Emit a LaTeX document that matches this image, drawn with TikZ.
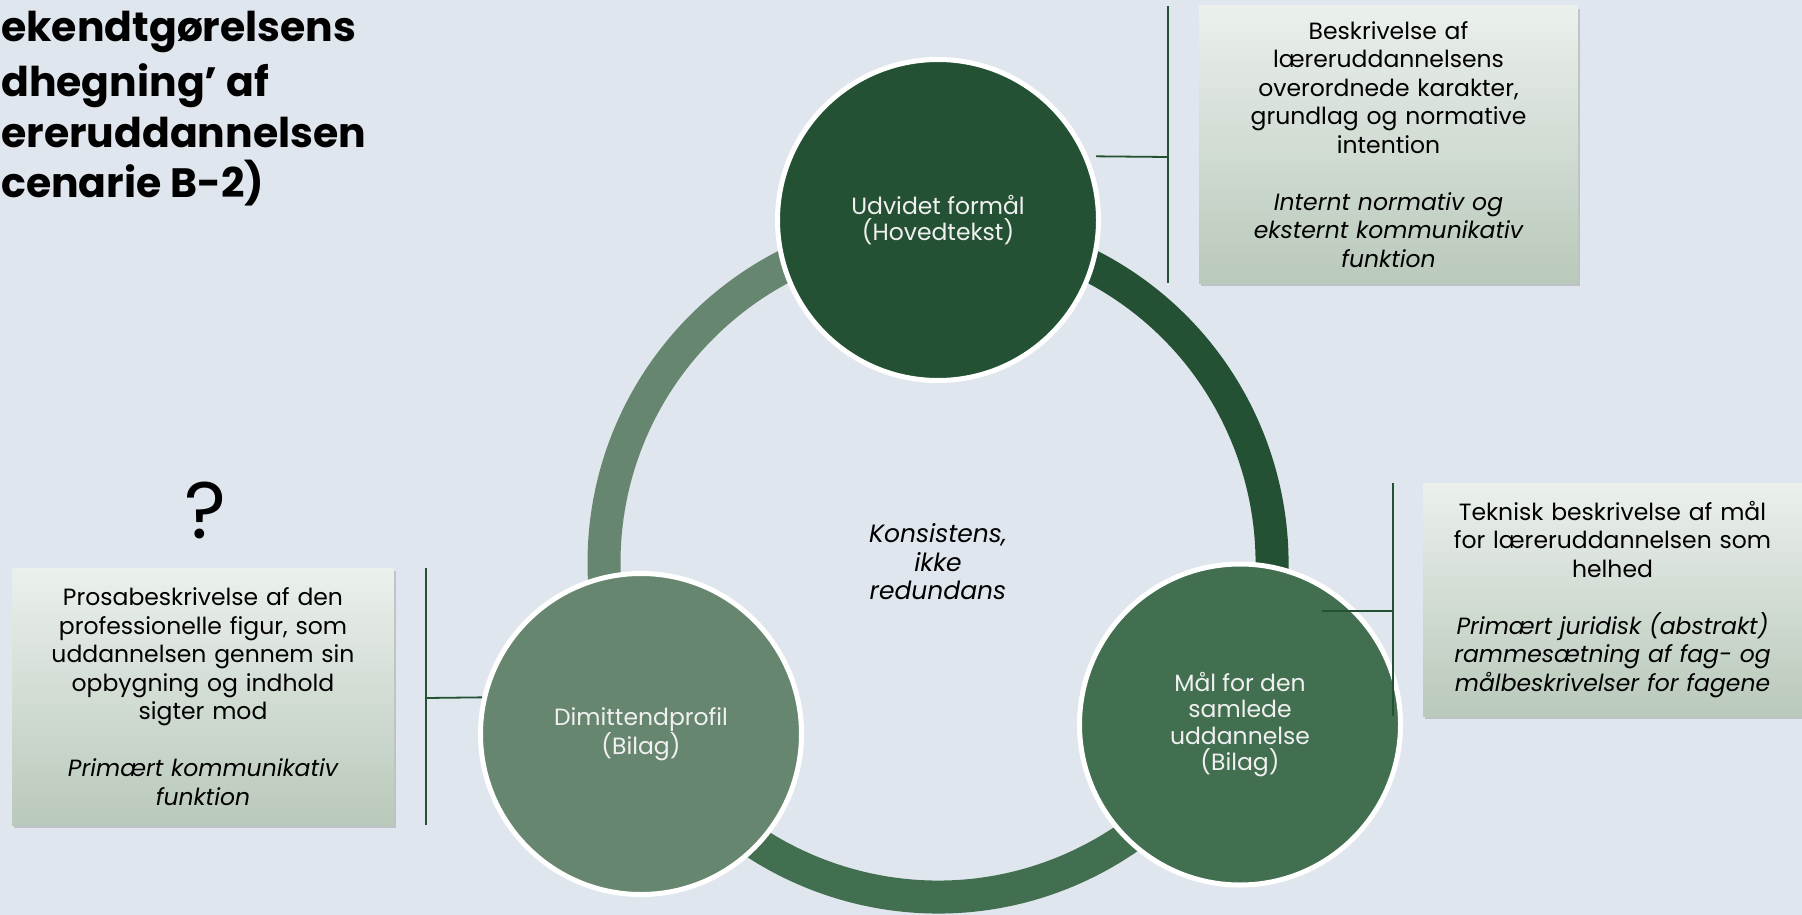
\documentclass[tikz,border=0pt]{standalone}
\usepackage{fontspec}
\setmainfont{Poppins}
\usetikzlibrary{shadows}

\definecolor{bg}{HTML}{E0E6ED}
\definecolor{darkgr}{HTML}{245133}
\definecolor{midgr}{HTML}{426F50}
\definecolor{lightgr}{HTML}{678670}
\definecolor{boxtop}{HTML}{EBF0EC}
\definecolor{boxbot}{HTML}{B9C9BB}

\begin{document}
\begin{tikzpicture}[x=1pt,y=-1pt,
  every node/.style={inner sep=0pt},
  disc/.style={circle, draw=white, line width=5pt, minimum size=321pt,
    text=white!94!black, align=center, font=\fontsize{23.5}{26.5}\selectfont},
  infobox/.style={rectangle, shading=axis, top color=boxtop, bottom color=boxbot,
    drop shadow={shadow xshift=2pt, shadow yshift=-3pt, opacity=.35},
    align=center, text width=360pt, font=\fontsize{23.5}{28.5}\selectfont},
  link/.style={draw=darkgr, line width=1.8pt},
  ring/.style={line width=33pt},
  heading/.style={anchor=base west, font=\fontsize{41}{52}\selectfont\bfseries}
]
\useasboundingbox (0,0) rectangle (1802,915);
\fill[bg] (0,0) rectangle (1802,915);

% title
\foreach \t/\y [count=\i] in {ekendtgørelsens/42, dhegning’ af/97,
    ereruddannelsen/147, cenarie B-2)/197}
  \node[heading] (title\i) at (1,\y) {\t};

\node[font=\fontsize{80}{80}\selectfont] (qmark) at (205,510) {?};

% ring
\coordinate (hub) at (938,563);
\draw[ring, lightgr] (hub) ++(90:334pt) arc[start angle=90, end angle=210, radius=334pt];
\draw[ring, darkgr] (hub) ++(-28:334pt) arc[start angle=-28, end angle=90, radius=334pt];
\draw[ring, midgr] (hub) ++(210:334pt) arc[start angle=210, end angle=332, radius=334pt];

\node[font=\fontsize{25}{28.5}\selectfont\itshape, align=center] (core) at (938,562)
  {Konsistens,\\ikke\\redundans};

% the three parts
\node[disc, fill=darkgr] (formaal) at (938,220) {Udvidet formål\\(Hovedtekst)};
\node[disc, fill=midgr] (maal) at (1240,724.5) {Mål for den\\samlede\\uddannelse\\(Bilag)};
\node[disc, fill=lightgr] (profil) at (641,734) {Dimittendprofil\\(Bilag)};

% descriptions
\node[infobox, minimum width=379pt, minimum height=277pt] (formaalbox) at (1388.5,144.5)
  {Beskrivelse af\\læreruddannelsens\\overordnede karakter,\\grundlag og normative\\intention\\[28.5pt]
   \itshape Internt normativ og\\eksternt kommunikativ\\funktion};
\node[infobox, minimum width=379pt, minimum height=233pt] (maalbox) at (1612.5,599.5)
  {Teknisk beskrivelse af mål\\for læreruddannelsen som\\helhed\\[28.5pt]
   \itshape Primært juridisk (abstrakt)\\rammesætning af fag- og\\målbeskrivelser for fagene};
\node[infobox, minimum width=382pt, minimum height=257pt] (profilbox) at (203,696.5)
  {Prosabeskrivelse af den\\professionelle figur, som\\uddannelsen gennem sin\\opbygning og indhold\\sigter mod\\[28.5pt]
   \itshape Primært kommunikativ\\funktion};

% brackets
\coordinate (formaalbend) at (1168,157);
\coordinate (maalbend) at (1393,611);
\coordinate (maalfoot) at (1322,611);
\coordinate (profilbend) at (426,698);
\draw[link] (formaalbend |- formaalbox.north) -- (formaalbend |- formaalbox.south);
\draw[link] ([xshift=8pt]formaal.23) -- (formaalbend);
\draw[link] (maalbend |- maalbox.north) -- (maalbend |- maalbox.south);
\draw[link] (maalfoot) -- (maalbend);
\draw[link] (profilbend |- profilbox.north) -- (profilbend |- profilbox.south);
\draw[link] (profil.167) -- (profilbend);
\end{tikzpicture}
\end{document}
